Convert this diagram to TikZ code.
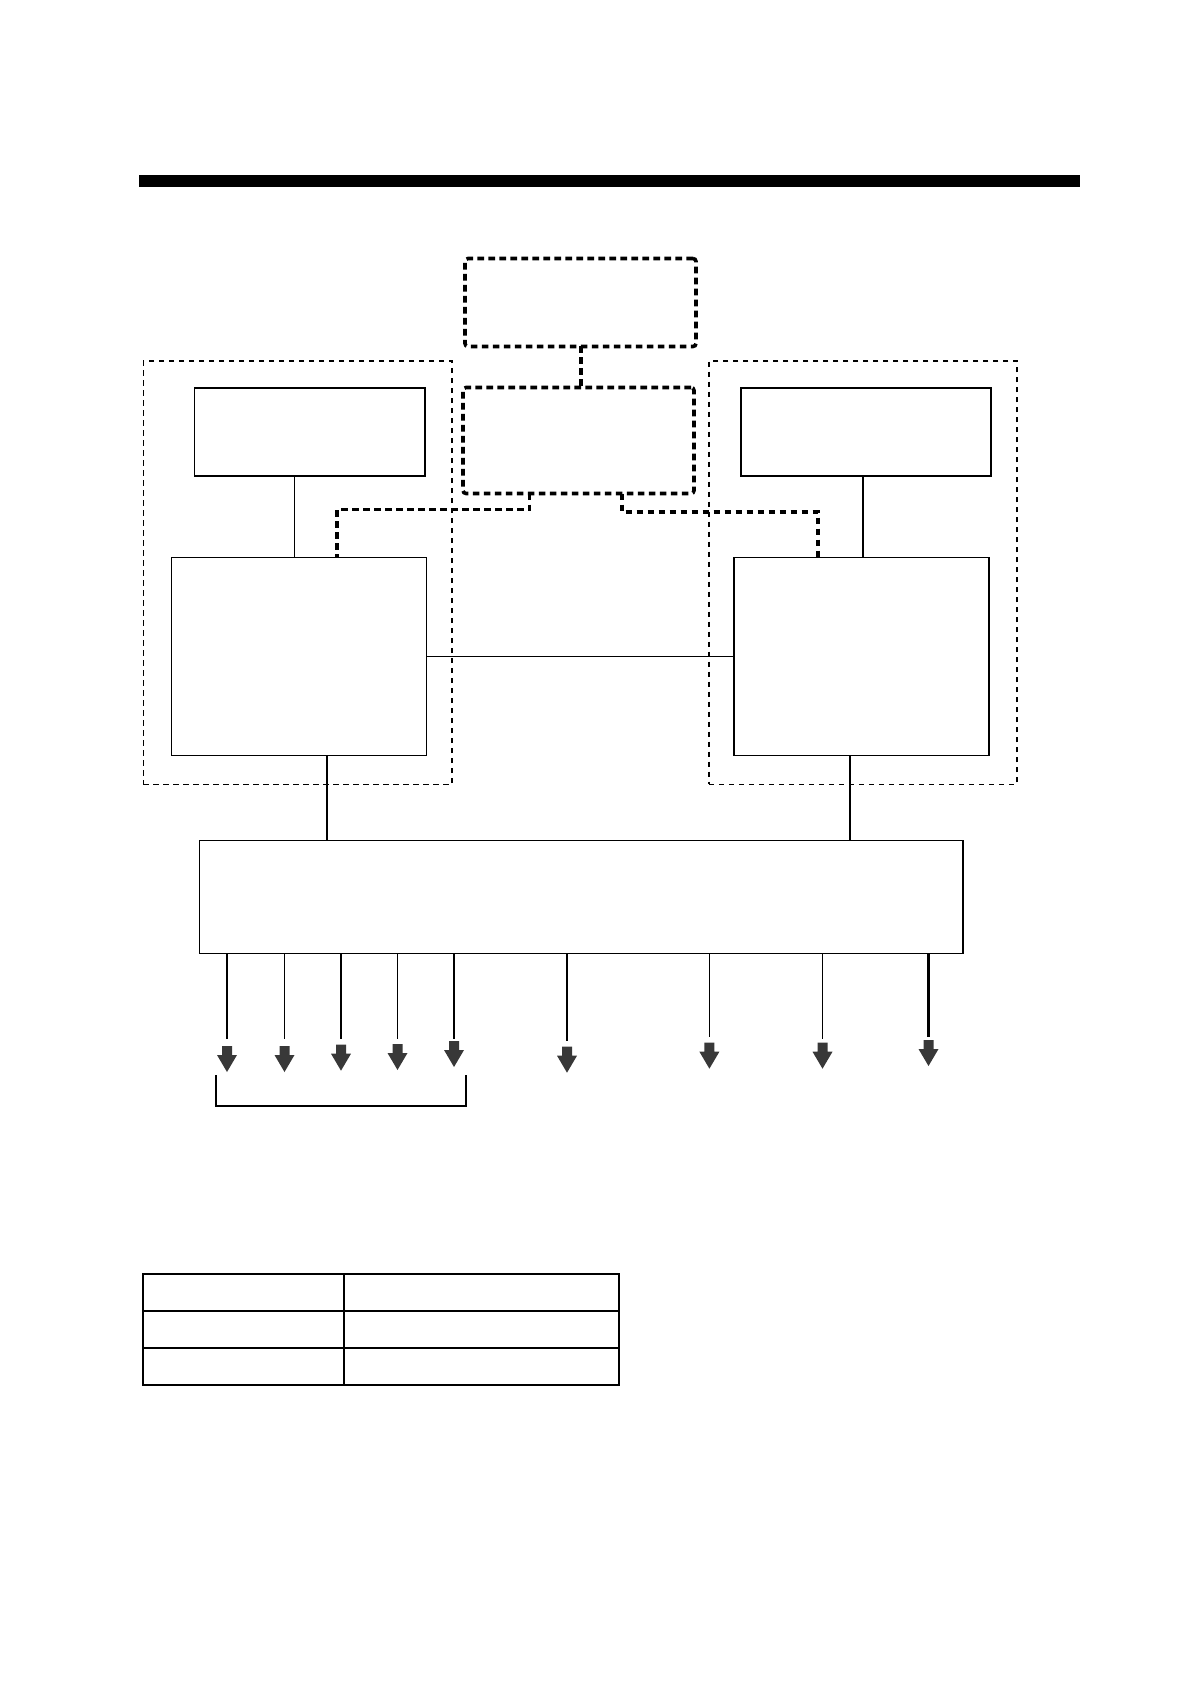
\documentclass[tikz,border=0pt]{standalone}
\usepackage{tikz}
\tikzset{unit/.style = {draw, line width=0.7pt, inner sep=0pt, outer sep=0pt},
         group/.style = {draw, line width=0.6pt, dash pattern=on 2.7pt off 2.3pt,
                         inner sep=0pt, outer sep=0pt},
         remote/.style = {draw, line width=1.8pt, dash pattern=on 3.3pt off 2.2pt,
                          rounded corners=1.5pt, inner sep=0pt, outer sep=0pt},
         wire/.style = {line width=0.7pt},
         bus/.style = {line width=1.8pt, dash pattern=on 3.3pt off 2.2pt},
         outarrow/.style = {fill=black!78}}

\begin{document}
\begin{tikzpicture}[x=0.5pt, y=-0.5pt]
     \useasboundingbox (0, 0) rectangle (1190, 1684);
     \fill (139, 175) rectangle (1080, 187);
     \node [group, minimum width=154.35pt, minimum height=211.65pt] (LD) at (297.65, 572.65) {};
     \node [group, minimum width=154pt, minimum height=211.65pt] (RD) at (863, 572.65) {};
     \node [remote, minimum width=115.5pt, minimum height=44pt] (T1) at (580.5, 302.5) {};
     \node [remote, minimum width=115.5pt, minimum height=53pt] (T2) at (578.5, 440.5) {};
     \node [unit, minimum width=115.25pt, minimum height=44pt] (L1) at (309.75, 432) {};
     \node [unit, minimum width=127.7pt, minimum height=99pt] (L2) at (299, 656.3) {};
     \node [unit, minimum width=125pt, minimum height=44pt] (R1) at (866, 432) {};
     \node [unit, minimum width=127.5pt, minimum height=99pt] (R2) at (861.5, 656.3) {};
     \node [unit, minimum width=381.85pt, minimum height=56.4pt] (M) at (581.15, 896.9) {};
     \coordinate (ta) at (581, 0);
     \coordinate (la) at (294.5, 0);
     \coordinate (ra) at (863, 0);
     \coordinate (lb) at (529.5, 509.5);
     \coordinate (lc) at (337, 0);
     \coordinate (rb) at (622, 512);
     \coordinate (rc) at (818, 0);
     \coordinate (lm) at (327, 0);
     \coordinate (rm) at (850, 0);
     \draw [bus] (T1.south -| ta) -- (T2.north -| ta);
     \draw [bus] (T2.south -| lb) -- (lb) -| (L2.north -| lc);
     \draw [bus] (T2.south -| rb) -- (rb) -| (R2.north -| rc);
     \draw [wire] (L1.south -| la) -- (L2.north -| la);
     \draw [wire] (R1.south -| ra) -- (R2.north -| ra);
     \draw [wire] (L2.east) -- (R2.west);
     \draw [wire] (L2.south -| lm) -- (M.north -| lm);
     \draw [wire] (R2.south -| rm) -- (M.north -| rm);
     \foreach \i/\px/\py/\ay/\lw in {1/227/1038.7/1046/0.7, 2/284.5/1038.7/1046/0.7,
                                     3/341/1038.7/1044.7/0.7, 4/397.5/1038.7/1044/0.7,
                                     5/454/1038.7/1041/0.7, 6/567/1040.7/1046.7/0.9,
                                     7/709.4/1036.7/1042.7/0.7, 8/822.5/1038.7/1042.7/0.7,
                                     9/928.5/1036.7/1040/1.1} {
          \coordinate (o\i) at (\px, \py);
          \draw [line width=\lw pt] (M.south -| o\i) -- (o\i);
          \fill [outarrow] (\px-5, \ay) -- (\px+5, \ay) -- (\px+5, \ay+9) -- (\px+10, \ay+9)
                -- (\px, \ay+26) -- (\px-10, \ay+9) -- (\px-5, \ay+9) -- cycle;
     }
     \coordinate (ba) at (216, 1075);
     \coordinate (bb) at (466, 1075);
     \draw [wire] (ba) -- ++(0, 31) -| (bb);
     \foreach \r in {0, 1, 2} {
          \draw [line width=1pt] (143.3, 1274.3+37*\r) rectangle (344.3, 1311.3+37*\r);
          \draw [line width=1pt] (344.3, 1274.3+37*\r) rectangle (619.3, 1311.3+37*\r);
     }
\end{tikzpicture}
\end{document}
